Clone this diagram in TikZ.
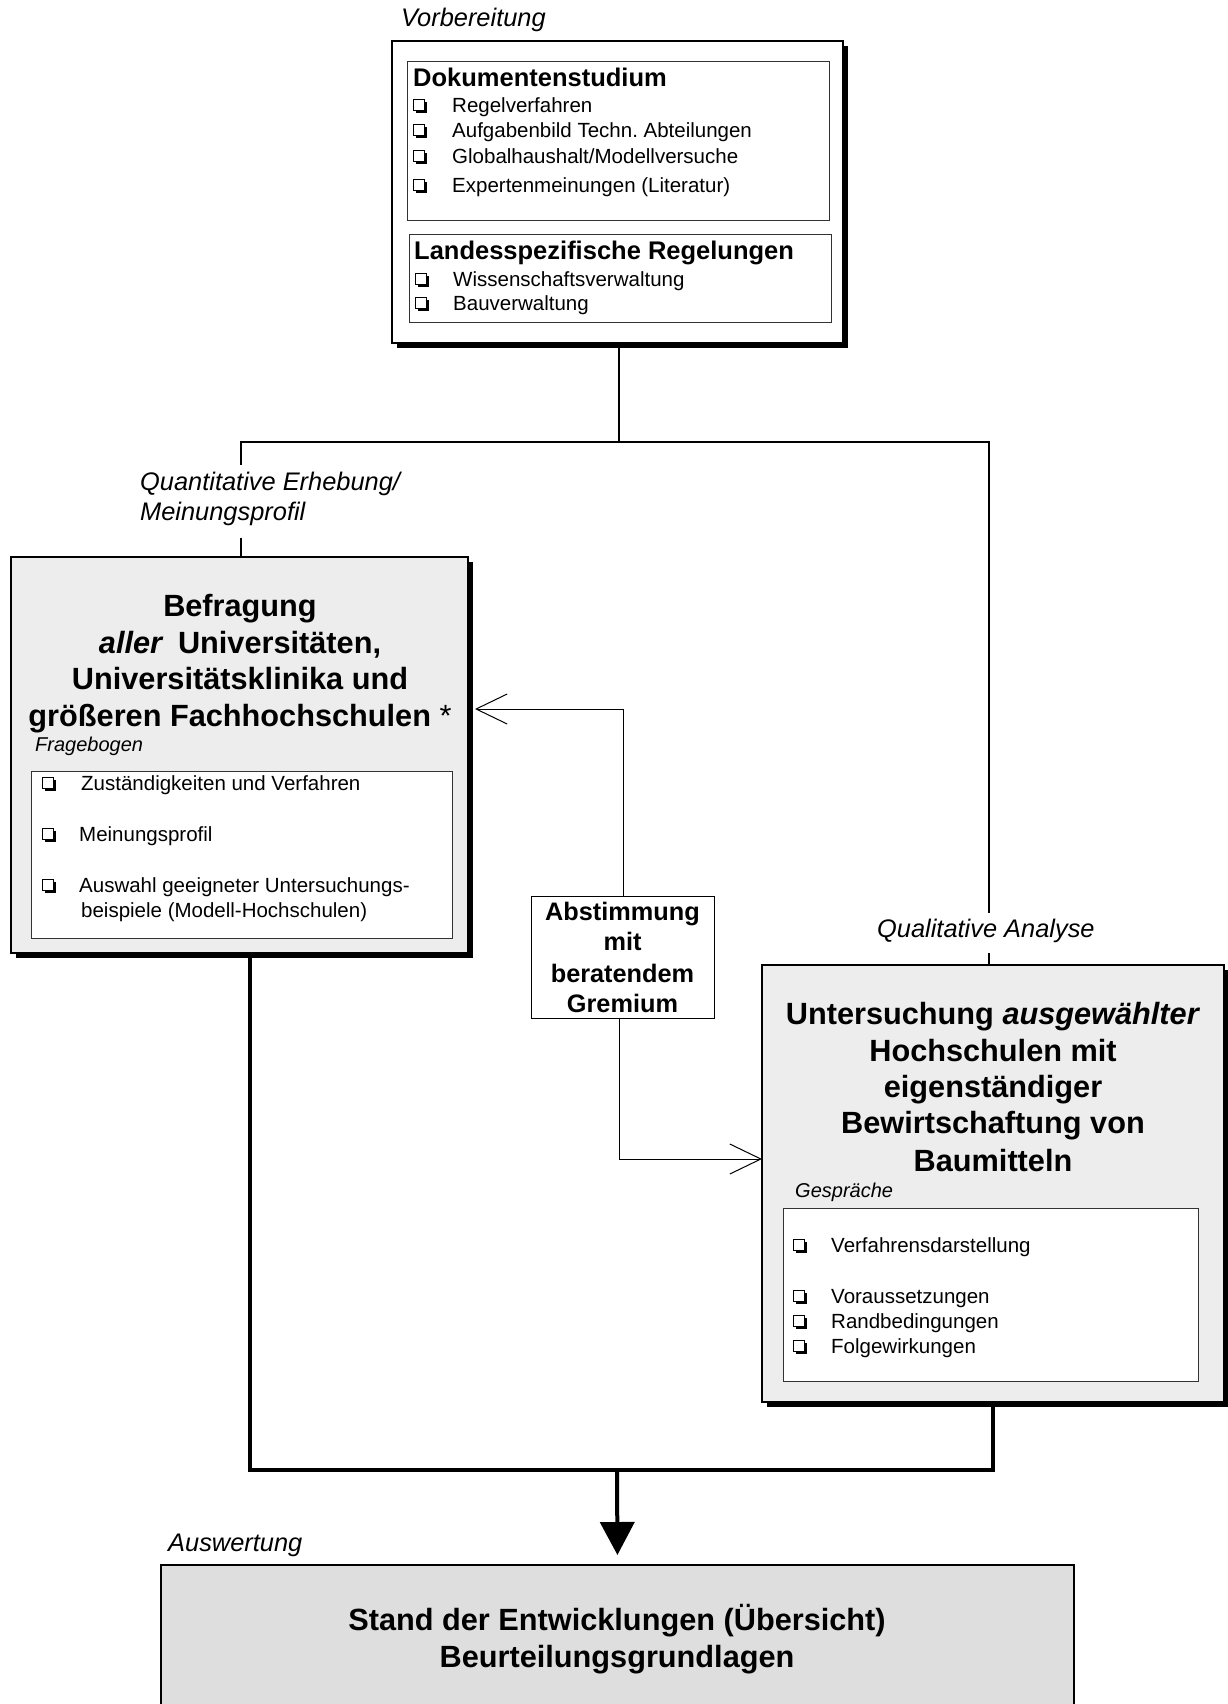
\documentclass[tikz,border=0pt]{standalone}
\usepackage{fontspec}
\setmainfont{Liberation Sans}
\usetikzlibrary{arrows.meta,shadows}
\frenchspacing

\tikzset{
  panel/.style={draw, line width=1.5pt, rectangle, inner sep=0pt, outer sep=0pt,
    anchor=north west,
    drop shadow={shadow xshift=5pt, shadow yshift=-5pt, opacity=1, fill=black}},
  plainpanel/.style={draw, line width=1.5pt, rectangle, inner sep=0pt, outer sep=0pt,
    anchor=north west},
  listbox/.style={draw=black!80, line width=1pt, fill=white, rectangle,
    inner sep=0pt, outer sep=0pt, anchor=north west},
  size/.style 2 args={minimum width=#1pt, minimum height=#2pt},
  title/.style={font=\fontsize{30.7}{36}\selectfont\bfseries, anchor=base, inner sep=0pt},
  vote/.style={font=\fontsize{25.3}{30}\selectfont\bfseries, anchor=base, inner sep=0pt},
  head/.style={font=\fontsize{25.5}{30}\selectfont\bfseries, anchor=base west, inner sep=0pt},
  item/.style={font=\fontsize{20.5}{24}\selectfont, anchor=base west, inner sep=0pt},
  stage/.style={font=\fontsize{25.4}{30}\selectfont\itshape, anchor=base west, inner sep=0pt},
  sub/.style={font=\fontsize{20}{24}\selectfont\itshape, anchor=base west, inner sep=0pt},
  conn/.style={line width=1.8pt},
  bus/.style={line width=4.5pt, line join=miter},
  busarrow/.style={line width=4pt, -{Triangle[length=33pt,width=34pt]}},
  feed/.style={line width=1pt, -{Straight Barb[length=31pt,width=30pt]}},
  chk/.pic={
    \fill (2.5,-10.5) rectangle (13.5,0.5);
    \filldraw[fill=white, line width=1pt] (0,-13) rectangle (11,-2);
  }
}

\begin{document}
\begin{tikzpicture}[x=1pt, y=-1pt]
\useasboundingbox (0,0) rectangle (1227,1704);
\fill[white] (0,0) rectangle (1227,1704);

% ---------- Vorbereitung ----------
\node[stage] (lprep) at (401,27) {Vorbereitung};
\node[panel, fill=white, size={451}{302}] (prep) at (392,41) {};
\node[listbox, size={422}{159}] (doc) at (407,62) {};
\node[listbox, size={422}{87}] (land) at (409,235) {};

\node[head] (hdoc) at (413,87) {Dokumentenstudium};
\pic (c1) at (413,113) {chk}; \node[item] (d1) at (452,113) {Regelverfahren};
\pic (c2) at (413,138) {chk}; \node[item] (d2) at (452,138) {Aufgabenbild Techn. Abteilungen};
\pic (c3) at (413,164) {chk}; \node[item] (d3) at (452,164) {Globalhaushalt/Modellversuche};
\pic (c4) at (413,193) {chk}; \node[item] (d4) at (452,193) {Expertenmeinungen (Literatur)};

\node[head] (hland) at (414,259) {Landesspezifische Regelungen};
\pic (c5) at (415,286) {chk}; \node[item] (l1) at (453,286) {Wissenschaftsverwaltung};
\pic (c6) at (415,310) {chk}; \node[item] (l2) at (453,310) {Bauverwaltung};

% ---------- Quantitative Erhebung ----------
\node[stage] (lq1) at (140,490) {Quantitative Erhebung/};
\node[stage] (lq2) at (140,520) {Meinungsprofil};
\node[panel, fill=black!7, size={457}{396}] (quant) at (11,557) {};
\node[title] (q1) at (240,616) {Befragung};
\node[title] (q2) at (240,653) {\textit{aller}\hspace{6pt} Universitäten,};
\node[title] (q3) at (240,689) {Universitätsklinika und};
\node[title] (q4) at (240,726) {größeren Fachhochschulen {\mdseries *}};
\node[sub] (fb) at (35,751) {Fragebogen};
\node[listbox, size={421}{167}] (qlist) at (31,771) {};
\pic (c7) at (42,790) {chk}; \node[item] (f1) at (81,790) {Zuständigkeiten und Verfahren};
\pic (c8) at (42,841) {chk}; \node[item] (f2) at (79,841) {Meinungsprofil};
\pic (c9) at (42,892) {chk}; \node[item] (f3) at (79,892) {Auswahl geeigneter Untersuchungs-};
\node[item] (f4) at (81,917) {beispiele (Modell-Hochschulen)};

% ---------- Qualitative Analyse ----------
\node[stage] (la) at (877,937) {Qualitative Analyse};
\node[panel, fill=black!7, size={462}{437}] (qual) at (762,965) {};
\node[title] (u1) at (993,1024) {Untersuchung \textit{ausgewählter}};
\node[title] (u2) at (993,1061) {Hochschulen mit};
\node[title] (u3) at (993,1097) {eigenständiger};
\node[title] (u4) at (993,1133) {Bewirtschaftung von};
\node[title] (u5) at (993,1171) {Baumitteln};
\node[sub] (gs) at (795,1197) {Gespräche};
\node[listbox, size={415}{173}] (ulist) at (783,1208) {};
\pic (c10) at (793,1252) {chk}; \node[item] (g1) at (831,1252) {Verfahrensdarstellung};
\pic (c11) at (793,1303) {chk}; \node[item] (g2) at (831,1303) {Voraussetzungen};
\pic (c12) at (793,1328) {chk}; \node[item] (g3) at (831,1328) {Randbedingungen};
\pic (c13) at (793,1353) {chk}; \node[item] (g4) at (831,1353) {Folgewirkungen};

% ---------- Abstimmung ----------
\node[listbox, draw=black, size={183}{122}] (coord) at (531,896) {};
\node[vote] (a1) at (622.5,920) {Abstimmung};
\node[vote] (a2) at (622.5,950) {mit};
\node[vote] (a3) at (622.5,982) {beratendem};
\node[vote] (a4) at (622.5,1012) {Gremium};

% ---------- Auswertung ----------
\node[stage] (lres) at (168,1551) {Auswertung};
\node[plainpanel, fill=black!13, size={913}{170}] (result) at (161,1565) {};
\node[title] (r1) at (617,1630) {Stand der Entwicklungen (Übersicht)};
\node[title] (r2) at (617,1667) {Beurteilungsgrundlagen};

% ---------- connectors ----------
\coordinate (split) at (619,442);
\coordinate (lgapT) at (241,465);
\coordinate (lgapB) at (241,538);
\coordinate (rgapT) at (989,913);
\coordinate (rgapB) at (989,953);
\draw[conn] (prep.south -| split) -- (split);
\draw[conn] (lgapT) -- (lgapT |- split) -- (rgapT |- split) -- (rgapT);
\draw[conn] (lgapB) -- (quant.north -| lgapB);
\draw[conn] (rgapB) -- (qual.north -| rgapB);

\coordinate (fbU) at (623,709);
\coordinate (fbD) at (619,1159);
\draw[feed, shorten >=7pt] (coord.north -| fbU) -- (fbU) -- (quant.east |- fbU);
\draw[feed] (coord.south -| fbD) -- (fbD) -- (qual.west |- fbD);

\coordinate (busL) at (250,1470);
\coordinate (busR) at (993,1470);
\coordinate (busM) at (617,1470);
\draw[bus] (quant.south -| busL) -- (busL) -- (busR) -- (qual.south -| busR);
\draw[busarrow, shorten >=10pt] (busM) -- (result.north);
\end{tikzpicture}
\end{document}
